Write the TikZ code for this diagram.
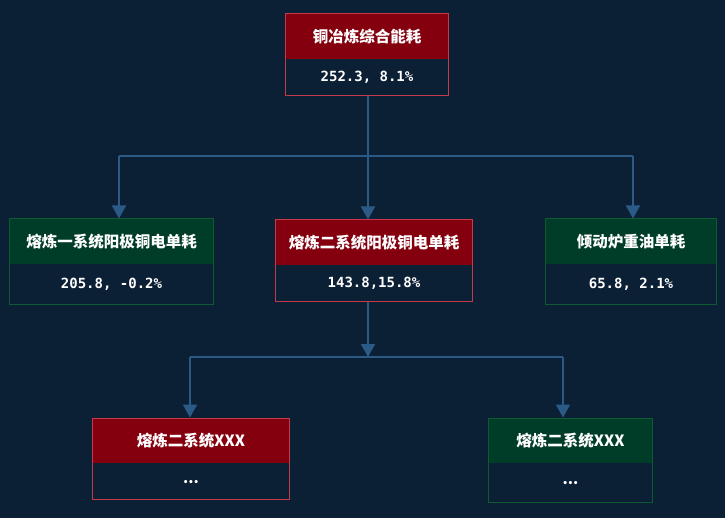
\documentclass[tikz,border=0pt]{standalone}
\usepackage{fontspec}
\newfontfamily\cjkfont{Noto Sans CJK SC}
\newfontfamily\numfont{DejaVu Sans Mono}
\usepackage{tikz}
\usetikzlibrary{positioning, arrows.meta, fit}

\definecolor{bgnavy}{HTML}{0B1F35}
\definecolor{redhead}{HTML}{85000F}
\definecolor{redline}{HTML}{C43A4A}
\definecolor{greenhead}{HTML}{003D28}
\definecolor{greenline}{HTML}{0E5A32}
\definecolor{linkblue}{HTML}{2B5A86}

\begin{document}
\begin{tikzpicture}[
    x=1pt, y=-1pt,
    head/.style={rectangle, anchor=north, inner sep=0pt, minimum height=45pt, text=white, font=\cjkfont\bfseries\fontsize{15.5}{18}\selectfont},
    val/.style={rectangle, inner sep=0pt, fill=bgnavy, text=white, font=\numfont\bfseries\fontsize{14}{16}\selectfont},
    frame/.style={rectangle, draw, line width=1pt, inner sep=0pt},
    link/.style={draw=linkblue, line width=2pt},
    tip/.style={-{Triangle[width=14pt, length=13pt]}, linkblue}
]

% background and page size
\fill[bgnavy] (0,0) rectangle (725,518);
\useasboundingbox (0,0) rectangle (725,518);

% Top level
\node[head, fill=redhead, minimum width=163pt] (toph) at (367,14) {铜冶炼综合能耗};
\node[val, minimum width=163pt, minimum height=36pt, below=0pt of toph] (topv) {252.3, 8.1\%};
\node[frame, draw=redline, fit=(toph)(topv)] (topbox) {};

% Second level
\node[head, fill=greenhead, minimum width=203pt] (lefth) at (111.5,219) {熔炼一系统阳极铜电单耗};
\node[val, minimum width=203pt, minimum height=40pt, below=0pt of lefth] (leftv) {205.8, -0.2\%};
\node[frame, draw=greenline, fit=(lefth)(leftv)] (leftbox) {};

\node[head, fill=redhead, minimum width=196pt] (midh) at (374,220) {熔炼二系统阳极铜电单耗};
\node[val, minimum width=196pt, minimum height=36pt, below=0pt of midh] (midv) {143.8,15.8\%};
\node[frame, draw=redline, fit=(midh)(midv)] (midbox) {};

\node[head, fill=greenhead, minimum width=170pt] (righth) at (631,219) {倾动炉重油单耗};
\node[val, minimum width=170pt, minimum height=40pt, below=0pt of righth] (rightv) {65.8, 2.1\%};
\node[frame, draw=greenline, fit=(righth)(rightv)] (rightbox) {};

% Third level
\node[head, fill=redhead, minimum width=196pt] (blh) at (191,418) {熔炼二系统XXX};
\node[val, minimum width=196pt, minimum height=36pt, below=0pt of blh, font=\cjkfont\bfseries\fontsize{15}{16}\selectfont] (blv) {...};
\node[frame, draw=redline, fit=(blh)(blv)] (blbox) {};

\node[head, fill=greenhead, minimum width=163pt] (brh) at (570.5,418) {熔炼二系统XXX};
\node[val, minimum width=163pt, minimum height=39pt, below=0pt of brh, font=\cjkfont\bfseries\fontsize{15}{16}\selectfont] (brv) {...};
\node[frame, draw=greenline, fit=(brh)(brv)] (brbox) {};

% Connectors
\coordinate (busL) at (119,156);
\coordinate (busM) at (368,156);
\coordinate (busR) at (633,156);
\coordinate (busB) at (190,357);
\coordinate (busC) at (368,357);
\coordinate (busD) at (563,357);

\draw[link] (busM |- topbox.south) -- (busM);
\draw[link] (busL) -- (busR);
\draw[link, tip] (busL) -- (busL |- leftbox.north);
\draw[link, tip] (busM) -- (busM |- midbox.north);
\draw[link, tip] (busR) -- (busR |- rightbox.north);

\draw[link, tip] (busC |- midbox.south) -- (busC);
\draw[link] (busB) -- (busD);
\draw[link, tip] (busB) -- (busB |- blbox.north);
\draw[link, tip] (busD) -- (busD |- brbox.north);

\end{tikzpicture}
\end{document}
